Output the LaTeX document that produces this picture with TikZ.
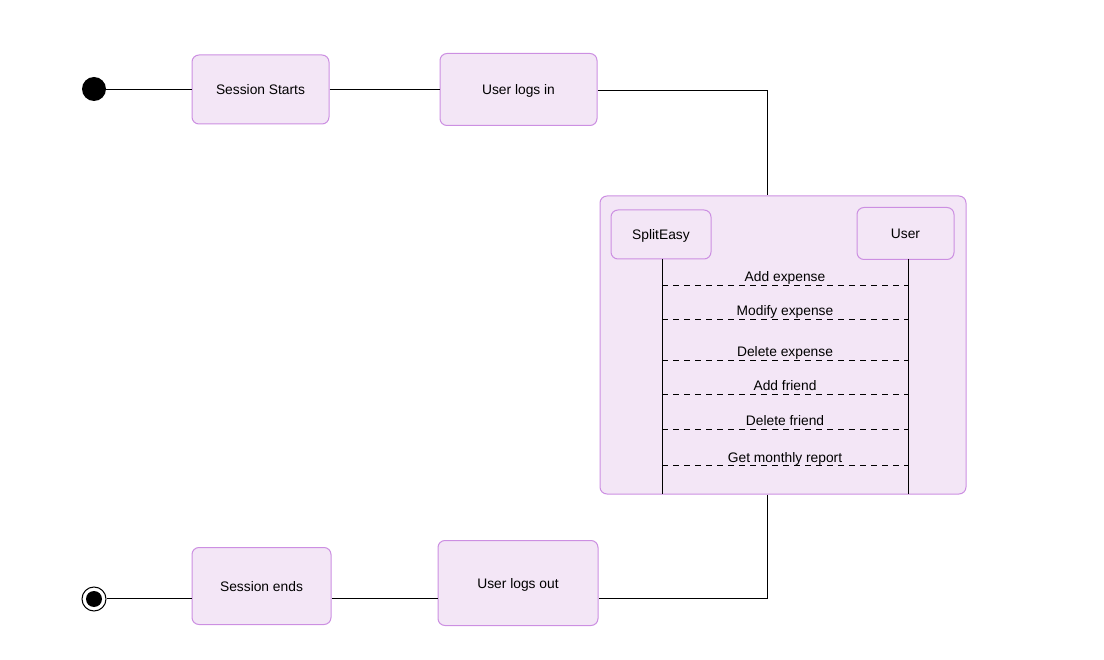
\documentclass[tikz,border=0pt]{standalone}
\usepackage{fontspec}
\setmainfont{Liberation Sans}
\begin{document}
\begin{tikzpicture}[x=1pt,y=-1pt,
  every node/.style={font=\fontsize{13.8pt}{16pt}\selectfont},
  state/.style={draw=stateline,fill=statefill,rounded corners=7pt,line width=1pt,inner sep=0pt,
                text height=12pt,text depth=1pt},
  wire/.style={line width=0.9pt,black},
  msg/.style={line width=0.9pt,black,dash pattern=on 6pt off 5pt},
  msglabel/.style={inner sep=1pt,text height=10pt,text depth=3pt}]
\definecolor{statefill}{HTML}{F3E6F6}
\definecolor{stateline}{HTML}{CC8FE2}
\useasboundingbox (0,0) rectangle (1104,660);

% initial and final pseudo-states
\node[circle,fill=black,minimum size=24pt,inner sep=0pt] (start) at (94,89) {};
\node[circle,draw=black,line width=1pt,fill=white,minimum size=24pt,inner sep=0pt] (stop) at (94,599) {};
\fill[black] (stop.center) circle (8pt);

% activity states
\node[state,minimum width=137pt,minimum height=69pt] (ss) at (260.5,89.5) {Session Starts};
\node[state,minimum width=157pt,minimum height=72pt] (login) at (518.5,89.5) {User logs in};
\node[state,minimum width=160pt,minimum height=85pt] (logout) at (518,583) {User logs out};
\node[state,minimum width=139pt,minimum height=77pt] (ends) at (261.5,586) {Session ends};

% interaction frame
\node[state,minimum width=366pt,minimum height=298pt] (frame) at (783,345) {};
\node[state,minimum width=100pt,minimum height=49pt] (se) at (661,234.5) {SplitEasy};
\node[state,minimum width=97pt,minimum height=52pt] (usr) at (905.5,233.5) {User};

% lifelines
\coordinate (seEnd) at (662,494);
\coordinate (usrEnd) at (908,494);
\draw[wire] (662,259) -- (seEnd);
\draw[wire] (908,259) -- (usrEnd);

% messages
\foreach \n/\y/\t in {1/285/Add expense,2/319/Modify expense,3/360/Delete expense,
                      4/394/Add friend,5/429/Delete friend,6/465/Get monthly report}{
  \coordinate (a\n) at (662,\y);
  \coordinate (b\n) at (908,\y);
  \draw[msg] (a\n) -- (b\n);
  \node[msglabel] (l\n) at (785,\y-6.5) {\t};
}

% transitions
\draw[wire] (start) -- (ss.west |- start);
\draw[wire] (ss) -- (login.west |- ss);
\coordinate (topKnee) at (767,90);
\draw[wire] (login.east |- topKnee) -- (topKnee) -- (frame.north -| topKnee);
\coordinate (botKnee) at (767,598);
\draw[wire] (frame.south -| botKnee) -- (botKnee) -- (logout.east |- botKnee);
\draw[wire] (logout.west |- botKnee) -- (ends.east |- botKnee);
\draw[wire] (ends.west |- botKnee) -- (stop.east |- botKnee);
\end{tikzpicture}
\end{document}
